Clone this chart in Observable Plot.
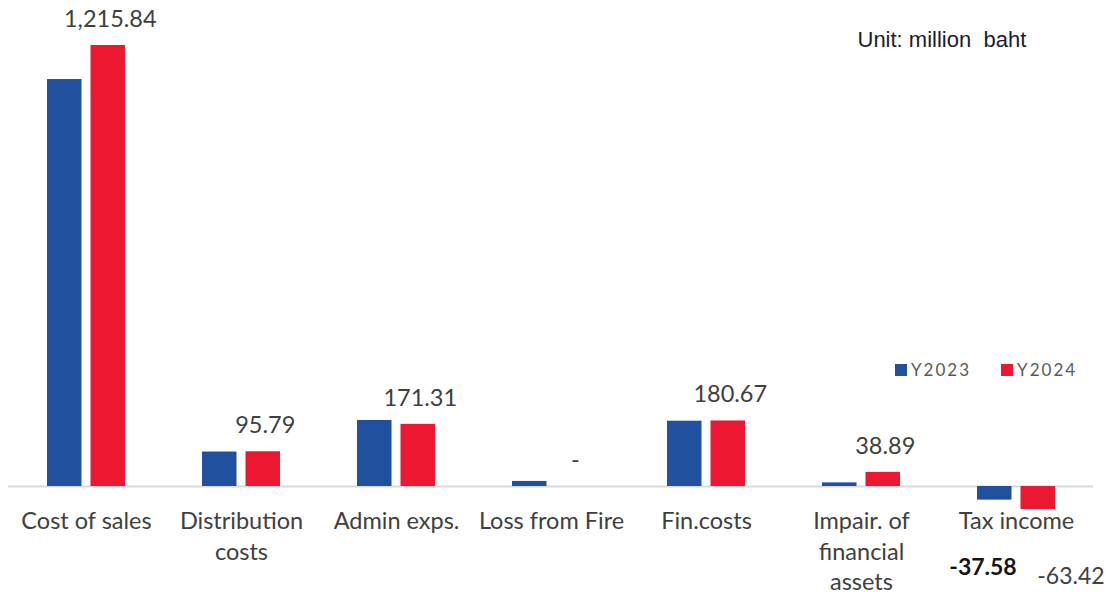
<!DOCTYPE html>
<html><head><meta charset="utf-8">
<script src="https://cdn.jsdelivr.net/npm/d3@7"></script>
<script src="https://cdn.jsdelivr.net/npm/@observablehq/plot@0.6"></script>
<style>
body{margin:0;background:#fff;}
#wrap{position:relative;width:1106px;height:598px;overflow:hidden;}
#legend{position:absolute;left:895px;top:353px;width:320px;white-space:nowrap;}
#legend div{flex-wrap:nowrap !important;}
#legend span[class$="-swatch"]{margin-right:30px !important;letter-spacing:2px;}
#legend span[class$="-swatch"] svg{margin-right:4px !important;}
svg text{white-space:pre;}
</style></head><body>
<div id="wrap"><div id="chart"></div><div id="legend"></div></div>
<script>
const categories = ["Cost of sales", "Distribution\ncosts", "Admin exps.", "Loss from Fire", "Fin.costs", "Impair. of\nfinancial\nassets", "Tax income"];
const years = ["Y2023", "Y2024"];
const y2023 = [1122, 95, 182, 14, 180, 10, -37.58];
const y2024 = [1215.84, 95.79, 171.31, 0, 180.67, 38.89, -63.42];
const labels2023 = ["", "", "", "", "", "", "-37.58"];
const labels2024 = ["1,215.84", "95.79", "171.31", "-", "180.67", "38.89", "-63.42"];
const unitText = "Unit: million  baht";
const colors = ["#21509e", "#ec1832"];

const rows = [];
categories.forEach((c, i) => {
  rows.push({category: c, year: years[0], value: y2023[i], label: labels2023[i]});
  rows.push({category: c, year: years[1], value: y2024[i], label: labels2024[i]});
});

const W = 1106, H = 598, ML = 8, MR = 13;
const band = (W - ML - MR) / categories.length * 0.5; // bandwidth
const barW = 34;
const inset = band - barW;
const redOffset = band / 2 - barW / 2;

const chart = Plot.plot({
  width: W, height: H,
  marginTop: 45, marginBottom: 89, marginLeft: ML, marginRight: MR,
  style: {fontFamily: "Lato, sans-serif", background: "white"},
  x: {domain: categories, paddingInner: 0.5, paddingOuter: 0.25, label: null},
  y: {domain: [d3.min(y2024.concat(y2023)), d3.max(y2024)], axis: null},
  color: {domain: years, range: colors},
  marks: [
    Plot.ruleY([0], {stroke: "#d9d9d9", strokeWidth: 2}),
    Plot.barY(rows.filter(d => d.year === years[0]), {x: "category", y: "value", fill: "year", insetRight: inset}),
    Plot.barY(rows.filter(d => d.year === years[1]), {x: "category", y: "value", fill: "year", insetLeft: inset}),
    Plot.text(rows.filter(d => d.year === years[1] && d.value >= 0), {
      x: "category", y: "value", text: "label", dx: redOffset + 2, dy: -26,
      fontSize: 23.5, fill: "#404040"
    }),
    Plot.text(rows.filter(d => d.year === years[0] && d.value < 0), {
      x: "category", y: "value", text: "label", dx: -33.5, dy: 67,
      fontSize: 23, fontWeight: "bold", fill: "#151515"
    }),
    Plot.text(rows.filter(d => d.year === years[1] && d.value < 0), {
      x: "category", y: "value", text: "label", dx: 54.5, dy: 67,
      fontSize: 23, fill: "#404040"
    }),
    Plot.axisX({tickSize: 0, tickPadding: -2, fontSize: 23.5, lineHeight: 1.3, color: "#404040", label: null}),
    Plot.text([unitText], {
      frameAnchor: "top-left", dx: 849, dy: -14, textAnchor: "start",
      fontSize: 22, fontFamily: "Liberation Sans, Arial, sans-serif", fill: "#1c1c30"
    })
  ]
});
document.getElementById("chart").appendChild(chart);

const legend = Plot.legend({
  color: {domain: years, range: colors},
  legend: "swatches", swatchSize: 12,
  style: {fontSize: "17px", fontFamily: "Lato, sans-serif", color: "#595959"}
});
document.getElementById("legend").appendChild(legend);
</script>
</body></html>
